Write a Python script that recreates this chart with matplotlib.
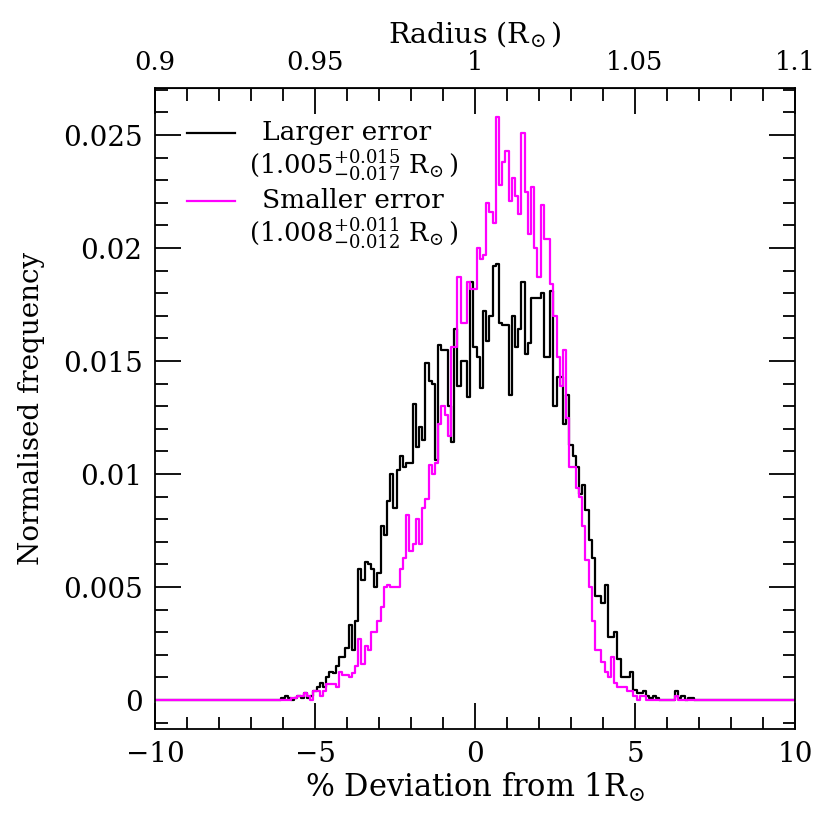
import numpy as np
import matplotlib
matplotlib.use("Agg")
import matplotlib.pyplot as plt
from matplotlib.ticker import MultipleLocator, FuncFormatter, FixedLocator

plt.rcParams["font.family"] = ["DejaVu Serif"]
plt.rcParams["mathtext.fontset"] = "dejavuserif"

# bin centres in % deviation from 1 Rsun (bins 0.1 wide)
first_centre = -6.2
bin_width = 0.1

# normalised frequency per bin, starting at -6.2, 10 bins per row
larger_err = [
    0, 0, 0.0001, 0.0002, 0.0001, 0.0, 0.0001, 0.0002, 0.0001, 0.0003,
    0.0001, 0.0002, 0.0004, 0.0006, 0.00075, 0.0006, 0.0010, 0.00125, 0.0012, 0.0015,
    0.0019, 0.0019, 0.0023, 0.0033, 0.0022, 0.0035, 0.0058, 0.0053, 0.0061, 0.0060,
    0.0058, 0.0050, 0.0056, 0.0077, 0.0073, 0.0088, 0.0100, 0.0085, 0.0102, 0.0108,
    0.0103, 0.0105, 0.0105, 0.0131, 0.0112, 0.0121, 0.0115, 0.0149, 0.0141, 0.0140,
    0.0106, 0.0157, 0.0155, 0.0155, 0.0130, 0.0114, 0.0164, 0.0139, 0.0150, 0.0150,
    0.0134, 0.0185, 0.0156, 0.0152, 0.0138, 0.0172, 0.0159, 0.0170, 0.0192, 0.0193,
    0.0167, 0.0166, 0.0166, 0.0135, 0.0170, 0.0156, 0.0164, 0.0185, 0.0153, 0.0158,
    0.0178, 0.0178, 0.0178, 0.0180, 0.0152, 0.0152, 0.0181, 0.0130, 0.0143, 0.0143,
    0.0122, 0.0135, 0.0113, 0.0108, 0.0103, 0.0091, 0.0095, 0.0084, 0.0071, 0.0063,
    0.0046, 0.0046, 0.0043, 0.0051, 0.0028, 0.0028, 0.0030, 0.0018, 0.0010, 0.0010,
    0.0010, 0.00125, 0.00045, 0.0003, 0.0003, 0.0004, 0.0002, 0.0001, 0.0002, 0.0001,
    0, 0, 0, 0, 0, 0.0004, 0.0001, 0.0002, 0, 0.0001,
    0.0001, 0, 0,
]

smaller_err = [
    0, 0, 0, 0, 0, 0.0001, 0.0001, 0.0002, 0.0002, 0.0003,
    0.0002, 0.0, 0.0004, 0.0004, 0.0002, 0.0004, 0.0007, 0.0007, 0.0007, 0.0006,
    0.00125, 0.0011, 0.0011, 0.0010, 0.0012, 0.0015, 0.0027, 0.0016, 0.0024, 0.0022,
    0.0030, 0.0030, 0.0035, 0.0041, 0.0050, 0.0051, 0.0050, 0.0050, 0.0050, 0.0058,
    0.0063, 0.0082, 0.0066, 0.0069, 0.0080, 0.0069, 0.0085, 0.0089, 0.0104, 0.0100,
    0.0105, 0.0122, 0.0130, 0.0126, 0.0117, 0.0156, 0.0156, 0.0187, 0.0167, 0.0167,
    0.0185, 0.0182, 0.0182, 0.0200, 0.0195, 0.0197, 0.0220, 0.0216, 0.0211, 0.0258,
    0.0228, 0.0238, 0.0243, 0.0221, 0.0231, 0.0223, 0.0215, 0.0251, 0.0225, 0.0206,
    0.0227, 0.0200, 0.0187, 0.0219, 0.0204, 0.0204, 0.0184, 0.0170, 0.0152, 0.0139,
    0.0155, 0.0125, 0.0103, 0.0103, 0.0094, 0.0090, 0.0077, 0.0062, 0.0050, 0.0035,
    0.0022, 0.0022, 0.0017, 0.00125, 0.0010, 0.0019, 0.00075, 0.0006, 0.0006, 0.0006,
    0.0004, 0.0004, 0.0002, 0.0, 0.0002, 0.0002, 0, 0, 0, 0,
    0, 0, 0, 0, 0, 0.0002, 0, 0, 0, 0,
    0, 0, 0,
]

radius_ticks = [0.9, 0.95, 1.0, 1.05, 1.1]
legend_labels = ["Larger error", "Smaller error"]
legend_values = [r"(1.005$^{+0.015}_{-0.017}$ R$_{\!\odot}$)",
                 r"(1.008$^{+0.011}_{-0.012}$ R$_{\!\odot}$)"]
colours = ["black", "#ff00ff"]


def padded_steps(values):
    # histogram as a step line, with zero padding out to the axis limits
    n = len(values)
    inner = first_centre - bin_width / 2 + bin_width * np.arange(n + 1)
    edges = np.concatenate([[-10.0], inner, [10.0]])
    vals = np.concatenate([[0.0], values, [0.0, 0.0]])
    return edges, vals


fig = plt.figure(figsize=(8.3, 8.24), dpi=100)
ax = fig.add_axes([155 / 830, 1 - 729 / 824, 640 / 830, 641 / 824])

for series, col in zip([larger_err, smaller_err], colours):
    e, v = padded_steps(np.array(series))
    ax.step(e, v, where="post", color=col, linewidth=1.6)

ax.set_xlim(-10, 10)
ax.set_ylim(-0.00128, 0.02708)

ax.xaxis.set_major_locator(MultipleLocator(5))
ax.xaxis.set_minor_locator(MultipleLocator(1))
ax.yaxis.set_major_locator(MultipleLocator(0.005))
ax.yaxis.set_minor_locator(MultipleLocator(0.001))
ax.yaxis.set_major_formatter(FuncFormatter(lambda v, p: "%g" % round(v, 4)))
ax.tick_params(which="both", direction="in", top=False, right=True,
               width=1.3, labelsize=20, pad=9)
ax.tick_params(which="major", length=19)
ax.tick_params(which="minor", length=9)
for s in ax.spines.values():
    s.set_linewidth(1.3)

top = ax.secondary_xaxis("top", functions=(lambda x: 1 + x / 100,
                                           lambda r: (r - 1) * 100))
top.xaxis.set_major_locator(FixedLocator(radius_ticks))
top.xaxis.set_minor_locator(FixedLocator(np.round(np.arange(0.91, 1.1, 0.01), 2)))
top.xaxis.set_major_formatter(FuncFormatter(lambda v, p: "%g" % round(v, 3)))
top.tick_params(which="both", direction="in", width=1.3, labelsize=18.5, pad=9)
top.tick_params(which="major", length=19)
top.tick_params(which="minor", length=9)
top.set_xlabel(r"Radius (R$_{\!\odot}$)", fontsize=20.5, labelpad=6)

ax.set_xlabel(r"% Deviation from 1R$_{\!\odot}$", fontsize=22, labelpad=2)
ax.set_ylabel("Normalised frequency", fontsize=20)
ax.yaxis.set_label_coords(-0.172, 0.5)

# legend drawn by hand to mimic the stacked two-line entries
line_y = [0.930, 0.824]
for lab, val, col, yy in zip(legend_labels, legend_values, colours, line_y):
    ax.plot([0.05, 0.125], [yy, yy], color=col, linewidth=1.6,
            transform=ax.transAxes)
    ax.text(0.167, yy, lab, fontsize=19, va="center", ha="left",
            transform=ax.transAxes)
    ax.text(0.147, yy - 0.051, val, fontsize=18.5, va="center", ha="left",
            transform=ax.transAxes)

fig.savefig("out.png", dpi=100)
